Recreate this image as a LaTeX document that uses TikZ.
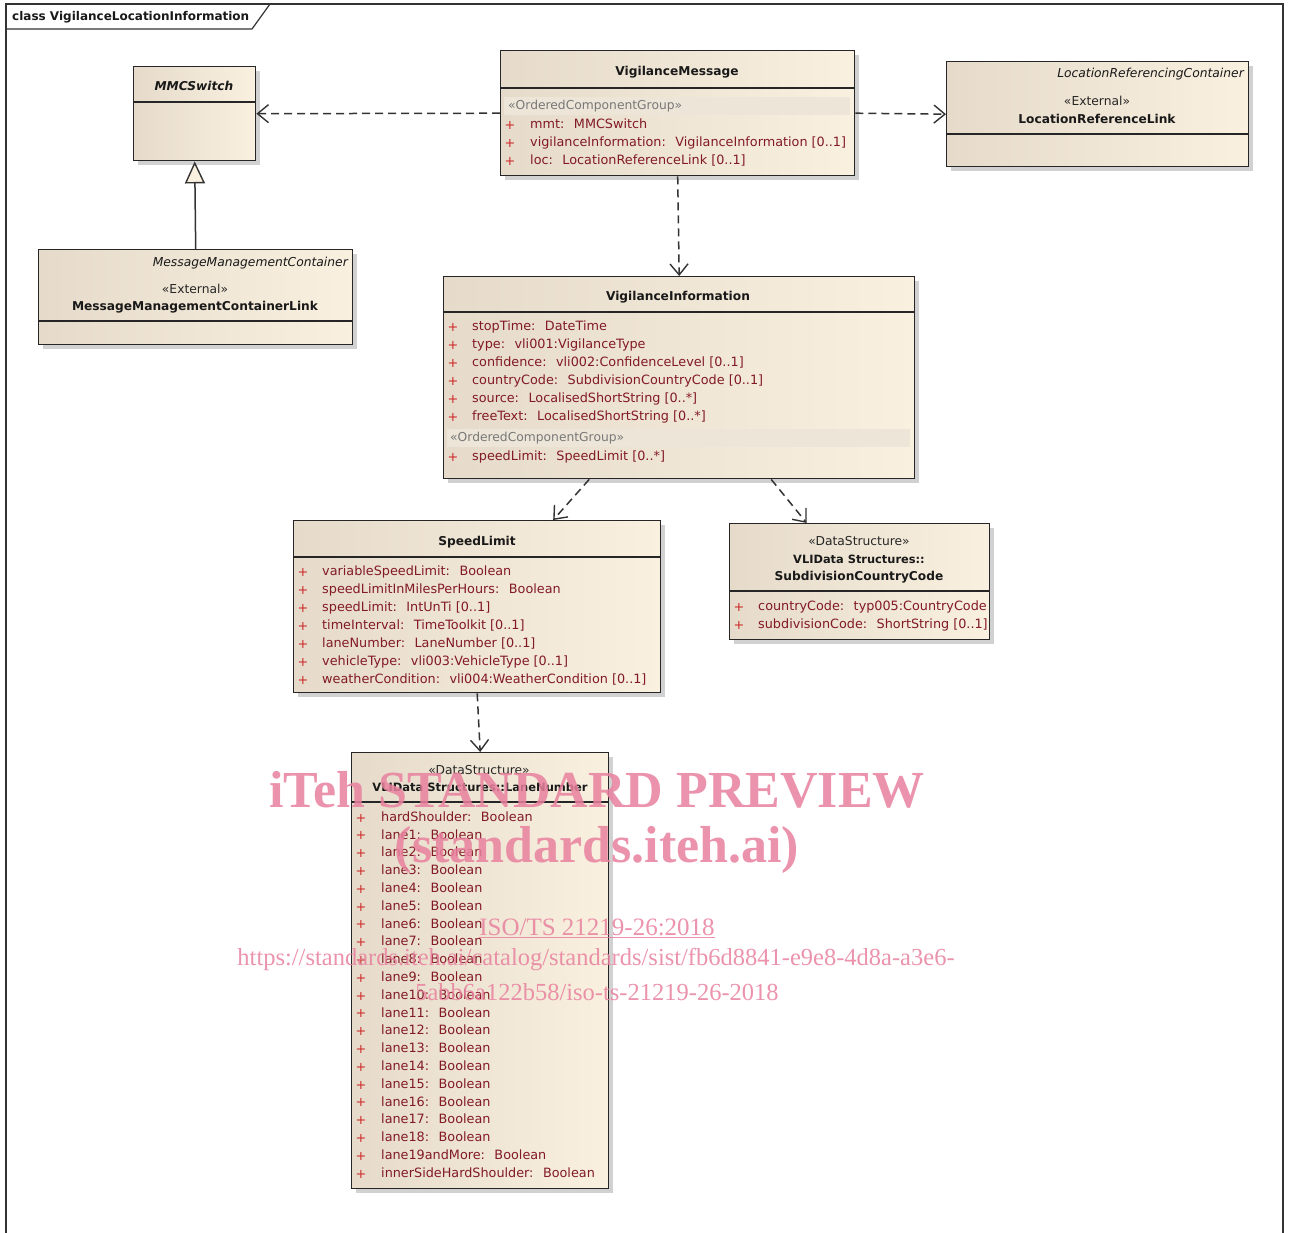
\documentclass[tikz,border=0pt]{standalone}
\usepackage{fontspec}
\setmainfont{DejaVu Sans}
\newfontfamily\wmfont{Liberation Serif}
\usetikzlibrary{positioning}
\usetikzlibrary{calc}
\usetikzlibrary{arrows.meta}
\usetikzlibrary{shadows}
\definecolor{boxL}{RGB}{230,219,202}
\definecolor{boxR}{RGB}{249,240,223}
\definecolor{attrred}{RGB}{130,26,36}
\definecolor{plusred}{RGB}{205,40,40}
\definecolor{stereo}{RGB}{120,120,120}
\definecolor{band}{RGB}{236,229,216}
\definecolor{wmpink}{RGB}{232,128,158}

\tikzset{
  umlbox/.style={draw=black!85, line width=1.4pt, left color=boxL, right color=boxR,
    anchor=north west, inner sep=0pt,
    drop shadow={shadow xshift=4pt, shadow yshift=-4pt, fill=black!30, opacity=0.6}},
  divider/.style={draw=black!85, line width=1.3pt},
  title/.style={font=\bfseries\fontsize{12.2}{15}\selectfont, text=black!90, inner sep=0pt, yshift=-1pt},
  ititle/.style={font=\itshape\fontsize{12.3}{15}\selectfont, text=black!90, inner sep=0pt, anchor=east, yshift=-1pt},
  ster/.style={font=\fontsize{12.3}{15}\selectfont, text=black!85, inner sep=0pt, yshift=-1pt},
  grpster/.style={font=\fontsize{12.3}{15}\selectfont, text=stereo, inner sep=0pt, anchor=mid west, yshift=-1pt},
  attr/.style={font=\fontsize{12.8}{15}\selectfont, text=attrred, inner sep=0pt, anchor=mid west, yshift=-1.5pt},
  plus/.style={font=\fontsize{12.8}{15}\selectfont, text=plusred, inner sep=0pt, yshift=-1pt},
  dep/.style={draw=black!80, line width=1.5pt, dash pattern=on 8pt off 5pt,
    -{Straight Barb[length=11pt,width=18pt,line width=1.4pt]}},
  gen/.style={draw=black!80, line width=1.5pt,
    -{Triangle[length=22pt,width=20pt,line width=1.4pt,fill=boxR]}},
  wm/.style={text=wmpink, opacity=0.85, inner sep=0pt}
}

\begin{document}
\begin{tikzpicture}[x=1pt,y=-1pt]
  \path[use as bounding box] (0,0) rectangle (1290,1233);

  % Frame
  \draw[line width=1.2pt, black!80] (6,1233) -- (6,4) -- (1283,4) -- (1283,1233);
  \draw[line width=1.2pt, black!80] (6,29) -- (252,29) -- (270,4);
  \node[title, font=\bfseries\fontsize{12}{15}\selectfont, anchor=west] (frm) at (12,16) {class VigilanceLocationInformation};

  % Boxes
  \node[umlbox, minimum width=122pt, minimum height=94pt] (mmc) at (133,66) {};
  \node[umlbox, minimum width=354pt, minimum height=125pt] (vmsg) at (500,50) {};
  \node[umlbox, minimum width=302pt, minimum height=105pt] (locref) at (946,61) {};
  \node[umlbox, minimum width=314pt, minimum height=95pt] (mmcont) at (38,249) {};
  \node[umlbox, minimum width=471pt, minimum height=202pt] (vinfo) at (443,276) {};
  \node[umlbox, minimum width=367pt, minimum height=172pt] (sl) at (293,520) {};
  \node[umlbox, minimum width=260pt, minimum height=116pt] (subdiv) at (729,523) {};
  \node[umlbox, minimum width=257pt, minimum height=436pt] (lane) at (351,752) {};

  % Compartment lines
  \draw[divider] ([yshift=-36pt]mmc.north west) -- ([yshift=-36pt]mmc.north east);
  \draw[divider] ([yshift=-38pt]vmsg.north west) -- ([yshift=-38pt]vmsg.north east);
  \draw[divider] ([yshift=-73pt]locref.north west) -- ([yshift=-73pt]locref.north east);
  \draw[divider] ([yshift=-72pt]mmcont.north west) -- ([yshift=-72pt]mmcont.north east);
  \draw[divider] ([yshift=-36pt]vinfo.north west) -- ([yshift=-36pt]vinfo.north east);
  \draw[divider] ([yshift=-37pt]sl.north west) -- ([yshift=-37pt]sl.north east);
  \draw[divider] ([yshift=-68pt]subdiv.north west) -- ([yshift=-68pt]subdiv.north east);
  \draw[divider] ([yshift=-50pt]lane.north west) -- ([yshift=-50pt]lane.north east);

  % MMCSwitch
  \node[title, font=\bfseries\itshape\fontsize{12.2}{15}\selectfont] (mmc-t) at (194,85) {MMCSwitch};

  % VigilanceMessage
  \node[title] (vmsg-t) at (677,71) {VigilanceMessage};
  \fill[band] (504,97) rectangle (850,115);
  \node[grpster] (vmsg-s) at (508,106) {«OrderedComponentGroup»};
  \foreach \txt [count=\i from 0] in {mmt:~ MMCSwitch,
      vigilanceInformation:~ VigilanceInformation [0..1],
      loc:~ LocationReferenceLink [0..1]} {
    \node[plus] (vmsg-p\i) at (510,124+18*\i) {+};
    \node[attr] (vmsg-a\i) at (530,124+18*\i) {\txt};
  }

  % LocationReferenceLink
  \node[ititle] (locref-c) at (1244,73) {LocationReferencingContainer};
  \node[ster] (locref-s) at (1097,100) {«External»};
  \node[title] (locref-t) at (1097,118) {LocationReferenceLink};

  % MessageManagementContainerLink
  \node[ititle] (mmcont-c) at (348,262) {MessageManagementContainer};
  \node[ster] (mmcont-s) at (195,288) {«External»};
  \node[title] (mmcont-t) at (195,306) {MessageManagementContainerLink};

  % VigilanceInformation
  \node[title] (vinfo-t) at (678,296) {VigilanceInformation};
  \foreach \txt [count=\i from 0] in {stopTime:~ DateTime,
      type:~ vli001:VigilanceType,
      confidence:~ vli002:ConfidenceLevel [0..1],
      countryCode:~ SubdivisionCountryCode [0..1],
      source:~ LocalisedShortString [0..*],
      freeText:~ LocalisedShortString [0..*]} {
    \node[plus] (vinfo-p\i) at (453,326+18*\i) {+};
    \node[attr] (vinfo-a\i) at (472,326+18*\i) {\txt};
  }
  \fill[band] (447,429) rectangle (910,447);
  \node[grpster] (vinfo-s) at (450,438) {«OrderedComponentGroup»};
  \node[plus] (vinfo-p6) at (453,456) {+};
  \node[attr] (vinfo-a6) at (472,456) {speedLimit:~ SpeedLimit [0..*]};

  % SpeedLimit
  \node[title] (sl-t) at (477,541) {SpeedLimit};
  \foreach \txt [count=\i from 0] in {variableSpeedLimit:~ Boolean,
      speedLimitInMilesPerHours:~ Boolean,
      speedLimit:~ IntUnTi [0..1],
      timeInterval:~ TimeToolkit [0..1],
      laneNumber:~ LaneNumber [0..1],
      vehicleType:~ vli003:VehicleType [0..1],
      weatherCondition:~ vli004:WeatherCondition [0..1]} {
    \node[plus] (sl-p\i) at (303,571+18*\i) {+};
    \node[attr] (sl-a\i) at (322,571+18*\i) {\txt};
  }

  % SubdivisionCountryCode
  \node[ster] (subdiv-s) at (859,540) {«DataStructure»};
  \node[title, font=\bfseries\fontsize{11.4}{15}\selectfont] (subdiv-t1) at (859,558) {VLIData Structures::};
  \node[title] (subdiv-t2) at (859,576) {SubdivisionCountryCode};
  \foreach \txt [count=\i from 0] in {countryCode:~ typ005:CountryCode,
      subdivisionCode:~ ShortString [0..1]} {
    \node[plus] (subdiv-p\i) at (739,606+18*\i) {+};
    \node[attr] (subdiv-a\i) at (758,606+18*\i) {\txt};
  }

  % LaneNumber
  \node[ster] (lane-s) at (479,769) {«DataStructure»};
  \node[title, font=\bfseries\fontsize{11.5}{15}\selectfont] (lane-t) at (480,786) {VLIData Structures::LaneNumber};
  \foreach \txt [count=\i from 0] in {hardShoulder:~ Boolean,
      lane1:~ Boolean, lane2:~ Boolean, lane3:~ Boolean, lane4:~ Boolean,
      lane5:~ Boolean, lane6:~ Boolean, lane7:~ Boolean, lane8:~ Boolean,
      lane9:~ Boolean, lane10:~ Boolean, lane11:~ Boolean, lane12:~ Boolean,
      lane13:~ Boolean, lane14:~ Boolean, lane15:~ Boolean, lane16:~ Boolean,
      lane17:~ Boolean, lane18:~ Boolean, lane19andMore:~ Boolean,
      innerSideHardShoulder:~ Boolean} {
    \node[plus] (lane-p\i) at (361,817+17.8*\i) {+};
    \node[attr] (lane-a\i) at (381,817+17.8*\i) {\txt};
  }

  % Connectors
  \draw[dep] (vmsg.west) -- (mmc.east);
  \draw[dep] (vmsg.east) -- (locref.west);
  \draw[dep] (vmsg.south) -- (vinfo.north);
  \draw[dep] ([xshift=-90pt]vinfo.south) -- ([xshift=76pt]sl.north);
  \draw[dep] ([xshift=92pt]vinfo.south) -- ([xshift=-53pt]subdiv.north);
  \draw[dep] (sl.south) -- (lane.north);
  \draw[gen] (mmcont.north) -- (mmc.south);

  % Watermark
  \node[wm, font=\wmfont\bfseries\fontsize{52}{52}\selectfont] (wm1) at (597,790) {iTeh STANDARD PREVIEW};
  \node[wm, font=\wmfont\bfseries\fontsize{52}{52}\selectfont] (wm2) at (597,850) {(standards.iteh.ai)};
  \node[wm, font=\wmfont\fontsize{25}{25}\selectfont] (wm3) at (597,928) {\underline{ISO/TS 21219-26:2018}};
  \node[wm, font=\wmfont\fontsize{24.5}{25}\selectfont] (wm4) at (596,960) {https://standards.iteh.ai/catalog/standards/sist/fb6d8841-e9e8-4d8a-a3e6-};
  \node[wm, font=\wmfont\fontsize{24.5}{25}\selectfont] (wm5) at (597,992) {5abb6a122b58/iso-ts-21219-26-2018};
\end{tikzpicture}
\end{document}
